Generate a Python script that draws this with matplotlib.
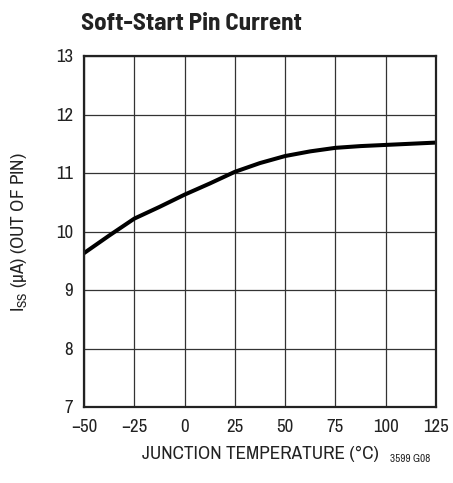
import matplotlib
matplotlib.use("Agg")
import matplotlib.pyplot as plt
from matplotlib import font_manager

names = {f.name for f in font_manager.fontManager.ttflist}
reg = "Archivo Narrow" if "Archivo Narrow" in names else "DejaVu Sans"
bold = "Barlow Semi Condensed" if "Barlow Semi Condensed" in names else reg
plt.rcParams['font.family'] = [reg, 'DejaVu Sans']
plt.rcParams['mathtext.fontset'] = 'custom'
plt.rcParams['mathtext.rm'] = reg
plt.rcParams['mathtext.it'] = reg

temp = [-50, -37.5, -25, -12.5, 0, 12.5, 25, 37.5, 50, 62.5, 75, 87.5, 100, 112.5, 125]
iss = [9.63, 9.93, 10.22, 10.42, 10.63, 10.82, 11.02, 11.17, 11.29, 11.37, 11.43, 11.46, 11.48, 11.50, 11.52]
xticks = [-50, -25, 0, 25, 50, 75, 100, 125]
xticklabels = ["\u221250", "\u221225", "0", "25", "50", "75", "100", "125"]
yticks = [7, 8, 9, 10, 11, 12, 13]

fig = plt.figure(figsize=(4.53, 4.83), dpi=100)
ax = fig.add_axes([84/453, 1-407/483, 352/453, 351/483])
ax.plot(temp, iss, color='black', lw=2.9, solid_capstyle='butt', solid_joinstyle='round')
ax.set_xlim(-50, 125)
ax.set_ylim(7, 13)
ax.set_xticks(xticks)
ax.set_xticklabels(xticklabels)
ax.set_yticks(yticks)
ax.grid(True, color='#333333', lw=0.9)
for s in ax.spines.values():
    s.set_linewidth(1.6)
    s.set_color('#222222')
ax.tick_params(length=0, labelsize=13.5, colors='#222222')
ax.tick_params(axis='x', pad=9)
ax.tick_params(axis='y', pad=8)
fig.text(260/453, 1-454/483, "JUNCTION TEMPERATURE (\u00b0C)", fontsize=13.8, color='#222222', ha='center', va='center')
fig.text(19/453, 1-232/483, "I$_{\\mathrm{SS}}$ (\u00b5A) (OUT OF PIN)", fontsize=13.8, color='#222222',
         ha='center', va='center', rotation=90)
fig.text(81/453, 1-24/483, "Soft-Start Pin Current", fontsize=18, fontweight='bold', family=[bold, 'DejaVu Sans'],
         va='center', ha='left', color='#222222')
fig.text(430/453, 1-459/483, "3599 G08", fontsize=8, ha='right', va='center', color='#222222')
fig.savefig("out.png", dpi=100)
